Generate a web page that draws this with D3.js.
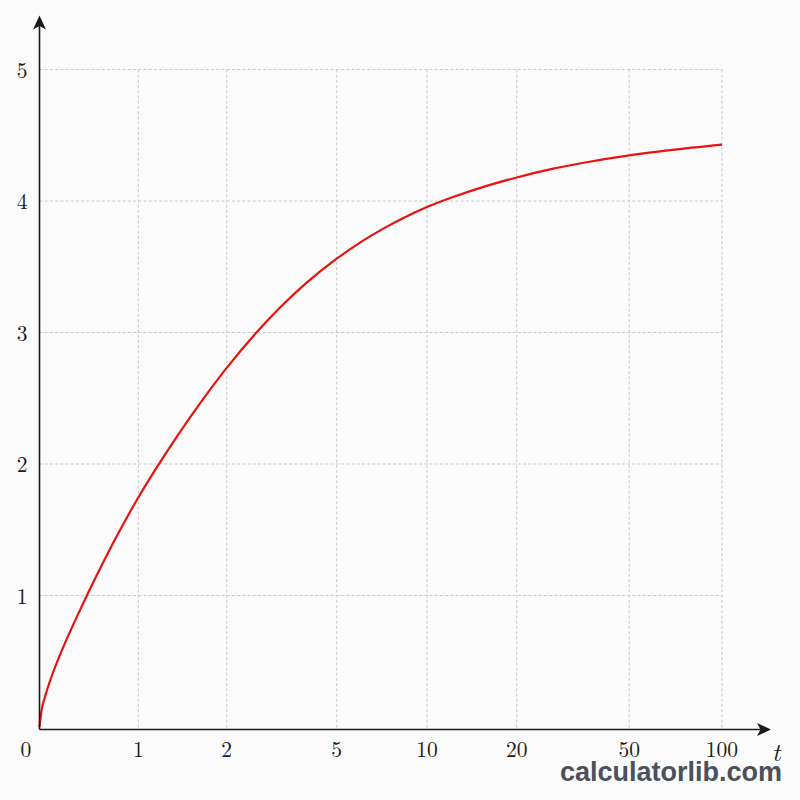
<!DOCTYPE html>
<html>
<head>
<meta charset="utf-8">
<script src="https://cdn.jsdelivr.net/npm/d3@7"></script>
<style>
  html, body { margin: 0; padding: 0; background: #fbfbfb; }
  svg { display: block; }
</style>
</head>
<body>
<svg width="800" height="800"></svg>
<script>
// tick values on the (uneven) t axis and on the y axis
const xTicks = [0, 1, 2, 5, 10, 20, 50, 100];
const yTicks = [1, 2, 3, 4, 5];

// curve
const tValues = [0, 0.02, 0.056, 0.123, 0.207, 0.291, 0.393, 0.494, 0.63, 0.764, 0.899, 1,
                 1.245, 1.471, 1.698, 2, 2.818, 3.454, 4.182, 5, 6.29, 7.58, 8.78, 10,
                 12.9, 16.66, 20, 29.76, 38.67, 50, 71.98, 100];
const yValues = [0, 0.122, 0.230, 0.386, 0.548, 0.694, 0.862, 1.023, 1.230, 1.426, 1.612, 1.745,
                 2.012, 2.243, 2.461, 2.731, 3.002, 3.190, 3.379, 3.561, 3.684, 3.790, 3.877, 3.954,
                 4.030, 4.115, 4.179, 4.246, 4.295, 4.347, 4.387, 4.429];

const svg = d3.select('svg');

// the t axis is spaced by hand between ticks, so piecewise linear
const x = d3.scaleLinear()
    .domain(xTicks)
    .range([39.5, 138.3, 226.7, 336.7, 427, 516.7, 629.2, 722]);
const y = d3.scaleLinear().domain([0, 5]).range([727, 69.5]);

const axisY = 729.5, axisX = 39.5;

// grid
const grid = svg.append('g')
    .attr('stroke', '#c9c9c9')
    .attr('stroke-width', 1)
    .attr('stroke-dasharray', '3,2.2');

grid.selectAll('.vgrid')
    .data(xTicks.slice(1))
    .enter()
    .append('line')
    .attr('x1', d => x(d)).attr('x2', d => x(d))
    .attr('y1', y(5)).attr('y2', axisY);

grid.selectAll('.hgrid')
    .data(yTicks)
    .enter()
    .append('line')
    .attr('x1', axisX).attr('x2', x(100))
    .attr('y1', d => y(d)).attr('y2', d => y(d));

// curve
const line = d3.line()
    .x(d => x(d[0]))
    .y(d => y(d[1]))
    .curve(d3.curveMonotoneX);

svg.append('path')
    .datum(tValues.map((t, i) => [t, yValues[i]]))
    .attr('d', line)
    .attr('fill', 'none')
    .attr('stroke', '#e8120e')
    .attr('stroke-width', 2.2);

// axes with arrow heads
svg.append('line')
    .attr('x1', axisX).attr('x2', 762)
    .attr('y1', axisY).attr('y2', axisY)
    .attr('stroke', '#1a1a1a').attr('stroke-width', 1.6);
svg.append('line')
    .attr('x1', axisX).attr('x2', axisX)
    .attr('y1', axisY).attr('y2', 24)
    .attr('stroke', '#1a1a1a').attr('stroke-width', 1.6);

svg.append('path')
    .attr('d', `M771,${axisY} L757,${axisY - 6.5} L760.5,${axisY} L757,${axisY + 6.5} Z`)
    .attr('fill', '#1a1a1a');
svg.append('path')
    .attr('d', `M${axisX},15.5 L${axisX - 6.5},29.5 L${axisX},26 L${axisX + 6.5},29.5 Z`)
    .attr('fill', '#1a1a1a');

// tick labels
const font = '"Latin Modern Roman", "CMU Serif", "Liberation Serif", serif';

svg.selectAll('.xlab')
    .data(xTicks)
    .enter()
    .append('text')
    .attr('x', d => d === 0 ? 26 : x(d))
    .attr('y', 757)
    .attr('text-anchor', 'middle')
    .style('font-family', font)
    .style('font-size', '21.5px')
    .style('fill', '#1a1a1a')
    .text(d => d);

svg.selectAll('.ylab')
    .data(yTicks)
    .enter()
    .append('text')
    .attr('x', 27.5)
    .attr('y', d => y(d) - 1)
    .attr('text-anchor', 'end')
    .attr('dominant-baseline', 'central')
    .style('font-family', font)
    .style('font-size', '21.5px')
    .style('fill', '#1a1a1a')
    .text(d => d);

svg.append('text')
    .attr('x', 776).attr('y', 761)
    .attr('text-anchor', 'middle')
    .style('font-family', font)
    .style('font-style', 'italic')
    .style('font-size', '26px')
    .style('fill', '#1a1a1a')
    .text('t');

// watermark
svg.append('text')
    .attr('x', 560).attr('y', 781)
    .attr('textLength', 222)
    .attr('lengthAdjust', 'spacingAndGlyphs')
    .style('font-family', '"Liberation Sans", Arial, sans-serif')
    .style('font-weight', 'bold')
    .style('font-size', '27px')
    .style('fill', '#4a515d')
    .text('calculatorlib.com');
</script>
</body>
</html>
